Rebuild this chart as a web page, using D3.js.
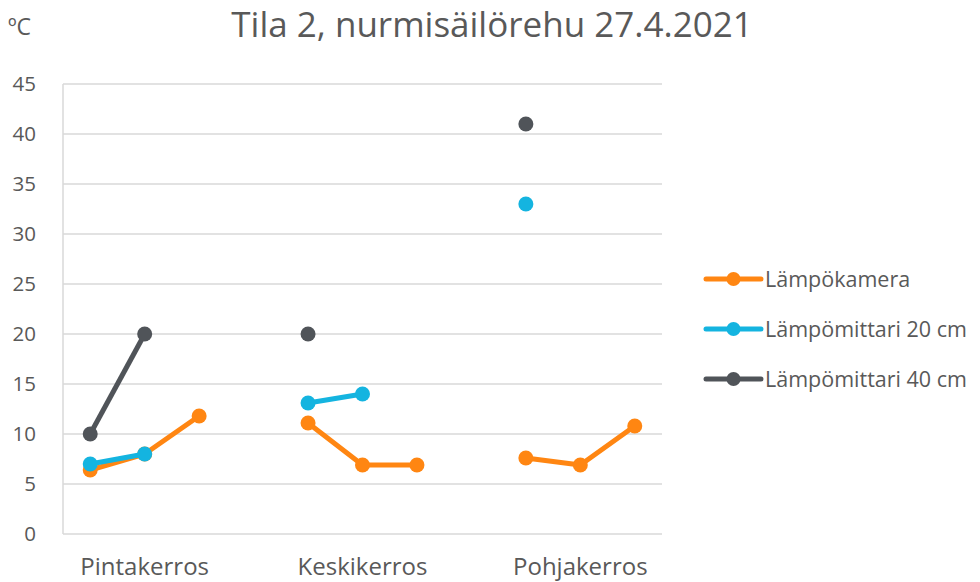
<!DOCTYPE html>
<html>
<head>
<meta charset="utf-8">
<script src="https://cdn.jsdelivr.net/npm/d3@7"></script>
<style>
  body { margin: 0; background: #fff; }
  text { font-family: "Open Sans", "Noto Sans", sans-serif; fill: #595959; }
</style>
</head>
<body>
<svg id="chart" width="980" height="582"></svg>
<script>
// categories and slot layout (3 points per layer, empty slot between layers)
var categories = ["Pintakerros", "Keskikerros", "Pohjakerros"];
var slots = [0, 1, 2, 3, 4, 5, 6, 7, 8, 9, 10];
var categorySlots = [1, 5, 9];

var lampokamera = [6.4, 8, 11.8, null, 11.1, 6.9, 6.9, null, 7.6, 6.9, 10.8];
var mittari20 = [7, 8, null, null, 13.1, 14, null, null, 33, null, null];
var mittari40 = [10, 20, null, null, 20, null, null, null, 41, null, null];

var seriesNames = ["Lämpökamera", "Lämpömittari 20 cm", "Lämpömittari 40 cm"];
var seriesColors = ["#FF8612", "#14B4E0", "#505459"];
var yTicks = [0, 5, 10, 15, 20, 25, 30, 35, 40, 45];

var series = [lampokamera, mittari20, mittari40];

var margin = {top: 84, left: 63, right: 318, bottom: 48},
    width = 980 - margin.left - margin.right,
    height = 582 - margin.top - margin.bottom;

var svg = d3.select("#chart");
var g = svg.append("g").attr("transform", "translate(" + margin.left + "," + margin.top + ")");

var x = d3.scaleBand().domain(slots).range([0, width]);
var y = d3.scaleLinear().domain([0, 45]).range([height, 0]);

// gridlines
g.selectAll(".grid").data(yTicks).enter().append("line")
    .attr("x1", 0).attr("x2", width)
    .attr("y1", function(d) { return y(d); })
    .attr("y2", function(d) { return y(d); })
    .attr("stroke", "#d9d9d9").attr("stroke-width", 1.5);

// vertical axis line
g.append("line").attr("x1", 0).attr("x2", 0).attr("y1", 0).attr("y2", height)
    .attr("stroke", "#d9d9d9").attr("stroke-width", 1.5);

// y tick labels
g.selectAll(".ytick").data(yTicks).enter().append("text")
    .attr("x", -27)
    .attr("y", function(d) { return y(d); })
    .attr("dy", "0.35em")
    .attr("text-anchor", "end")
    .style("font-size", "20.5px")
    .text(function(d) { return d; });

// category labels
g.selectAll(".cat").data(categories).enter().append("text")
    .attr("x", function(d, i) { return x(categorySlots[i]) + x.bandwidth() / 2; })
    .attr("y", height + 41)
    .attr("text-anchor", "middle")
    .style("font-size", "24px")
    .text(function(d) { return d; });

var line = d3.line()
    .defined(function(d) { return d != null; })
    .x(function(d, i) { return x(slots[i]) + x.bandwidth() / 2; })
    .y(function(d) { return y(d); });

series.forEach(function(s, k) {
  g.append("path").datum(s)
      .attr("d", line)
      .attr("fill", "none")
      .attr("stroke", seriesColors[k])
      .attr("stroke-width", 5)
      .attr("stroke-linejoin", "round");
  g.selectAll(".pt" + k)
      .data(s.map(function(v, i) { return {v: v, i: i}; }).filter(function(d) { return d.v != null; }))
      .enter().append("circle")
      .attr("cx", function(d) { return x(slots[d.i]) + x.bandwidth() / 2; })
      .attr("cy", function(d) { return y(d.v); })
      .attr("r", 7.5)
      .attr("fill", seriesColors[k]);
});

// title
svg.append("text")
    .attr("x", 492).attr("y", 37)
    .attr("text-anchor", "middle")
    .style("font-size", "35px")
    .text("Tila 2, nurmisäilörehu 27.4.2021");

svg.append("text")
    .attr("x", 8).attr("y", 35)
    .style("font-size", "23px")
    .text("ºC");

// legend
var legend = svg.append("g").attr("transform", "translate(706,279)");
seriesNames.forEach(function(name, k) {
  var row = legend.append("g").attr("transform", "translate(0," + (k * 50) + ")");
  row.append("line").attr("x1", 0).attr("x2", 55).attr("y1", 0).attr("y2", 0)
      .attr("stroke", seriesColors[k]).attr("stroke-width", 5).attr("stroke-linecap", "round");
  row.append("circle").attr("cx", 27.5).attr("cy", 0).attr("r", 7).attr("fill", seriesColors[k]);
  row.append("text").attr("x", 59).attr("y", 0).attr("dy", "0.35em")
      .style("font-size", "21.5px").text(name);
});
</script>
</body>
</html>
